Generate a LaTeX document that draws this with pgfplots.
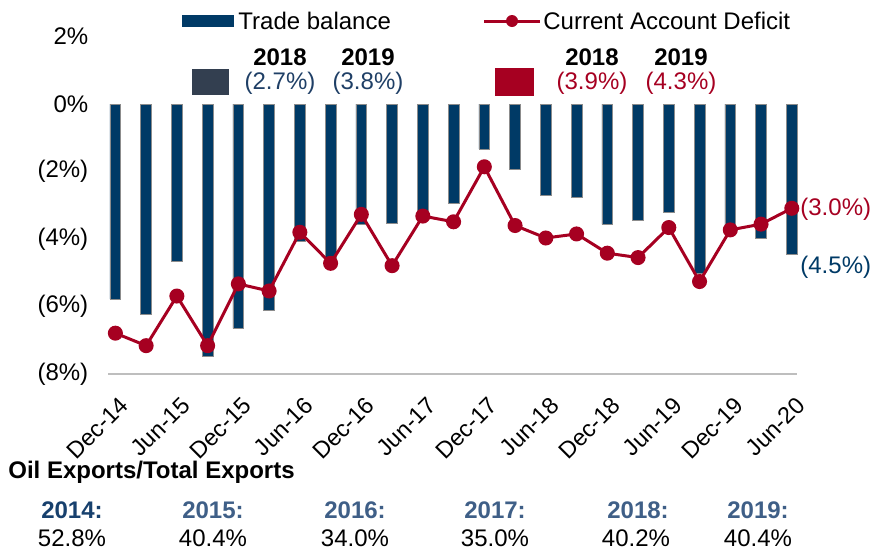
\documentclass[border=0pt]{standalone}
\usepackage{fontspec}
\setmainfont{Liberation Sans}
\usepackage{pgfplots}
\pgfplotsset{compat=1.18}
\definecolor{navy}{RGB}{0,58,102}
\definecolor{cadred}{RGB}{166,0,33}
\definecolor{slate}{RGB}{51,63,80}
\definecolor{txtblue}{RGB}{31,63,102}
\definecolor{yrA}{RGB}{23,64,109}
\definecolor{yrB}{RGB}{63,95,135}
\definecolor{axgray}{RGB}{190,190,190}
\begin{document}
\begin{tikzpicture}[font=\fontsize{12}{14}\selectfont]
\begin{scope}[x=0.5pt,y=-0.5pt]
\path[use as bounding box] (0,0) rectangle (873,548);
\end{scope}
\begin{axis}[
  at={(54.15pt,-187pt)}, anchor=south west,
  scale only axis, width=344.2pt, height=168.75pt,
  xmin=-0.23, xmax=22.16, ymin=-8, ymax=2,
  axis lines*=left,
  x axis line style={axgray, line width=1.2pt},
  y axis line style={draw=none},
  tick style={draw=none},
  ytick={-8,-6,-4,-2,0,2},
  yticklabels={(8\%),(6\%),(4\%),(2\%),0\%,2\%},
  yticklabel style={xshift=-6.5pt, font=\fontsize{12}{14}\selectfont},
  xtick={0,2,4,6,8,10,12,14,16,18,20,22},
  xticklabels={Dec-14,Jun-15,Dec-15,Jun-16,Dec-16,Jun-17,Dec-17,Jun-18,Dec-18,Jun-19,Dec-19,Jun-20},
  x tick label style={xshift=1.5pt, yshift=-10.5pt, rotate=45, anchor=north east, inner sep=0pt, font=\fontsize{11.7}{13}\selectfont},
  clip=false,
]
\addplot[ybar, bar width=5.4pt, fill=navy, draw=black!45, line width=0.3pt] coordinates {
(0,-5.78) (1,-6.23) (2,-4.65) (3,-7.48) (4,-6.65) (5,-6.12) (6,-4.06) (7,-4.75)
(8,-3.57) (9,-3.53) (10,-3.2) (11,-2.93) (12,-1.33) (13,-1.93) (14,-2.7) (15,-2.76)
(16,-3.57) (17,-3.46) (18,-3.22) (19,-5.02) (20,-3.85) (21,-3.99) (22,-4.45)
};
\addplot[cadred, line width=1.5pt, mark=*, mark size=3pt, mark options={fill=cadred, draw=cadred}] coordinates {
(0,-6.79) (1,-7.16) (2,-5.69) (3,-7.16) (4,-5.33) (5,-5.54) (6,-3.80) (7,-4.72)
(8,-3.27) (9,-4.79) (10,-3.32) (11,-3.49) (12,-1.86) (13,-3.60) (14,-3.97) (15,-3.85)
(16,-4.42) (17,-4.55) (18,-3.66) (19,-5.26) (20,-3.73) (21,-3.56) (22,-3.09)
};
\end{axis}
\begin{scope}[x=0.5pt,y=-0.5pt]
% legend
\fill[navy] (182,15) rectangle (234,27);
\node[anchor=west, inner sep=0pt] at (238,21) {Trade balance};
\draw[cadred, line width=1.5pt] (484,21) -- (540,21);
\fill[cadred] (512,21) circle (3pt);
\node[anchor=west, inner sep=0pt] at (543,21) {Current Account Deficit};
% annotation boxes
\node[font=\fontsize{12}{14}\selectfont\bfseries] at (280,57) {2018};
\node[font=\fontsize{12}{14}\selectfont\bfseries] at (368,57) {2019};
\fill[slate] (192,69) rectangle (229,95);
\node[text=txtblue] at (280,83) {(2.7\%)};
\node[text=txtblue] at (368,83) {(3.8\%)};
\node[font=\fontsize{12}{14}\selectfont\bfseries] at (592,57) {2018};
\node[font=\fontsize{12}{14}\selectfont\bfseries] at (681,57) {2019};
\fill[cadred] (495,68) rectangle (534,96);
\node[text=cadred] at (592,83) {(3.9\%)};
\node[text=cadred] at (681,83) {(4.3\%)};
% end labels
\node[text=cadred, anchor=west, inner sep=0pt] at (800,209) {(3.0\%)};
\node[text=navy, anchor=west, inner sep=0pt] at (800,267) {(4.5\%)};
% bottom table
\node[anchor=west, inner sep=0pt, font=\fontsize{12}{14}\selectfont\bfseries] at (8,472) {Oil Exports/Total Exports};
\node[text=yrA, font=\fontsize{12}{14}\selectfont\bfseries] at (72,510) {2014:};
\node[text=yrB, font=\fontsize{12}{14}\selectfont\bfseries] at (213,510) {2015:};
\node[text=yrB, font=\fontsize{12}{14}\selectfont\bfseries] at (355,510) {2016:};
\node[text=yrB, font=\fontsize{12}{14}\selectfont\bfseries] at (495,510) {2017:};
\node[text=yrB, font=\fontsize{12}{14}\selectfont\bfseries] at (638,510) {2018:};
\node[text=yrB, font=\fontsize{12}{14}\selectfont\bfseries] at (758,510) {2019:};
\node at (72,538) {52.8\%};
\node at (213,538) {40.4\%};
\node at (355,538) {34.0\%};
\node at (495,538) {35.0\%};
\node at (636,538) {40.2\%};
\node at (758,538) {40.4\%};
\end{scope}
\end{tikzpicture}
\end{document}
